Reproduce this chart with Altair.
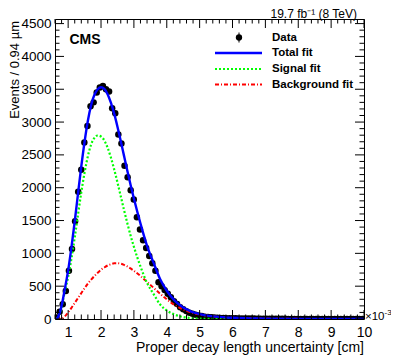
import altair as alt
import pandas as pd

# ---------------- data ----------------
BIN_LO, BIN_W = 0.6, 0.094
data_counts = [24, 110, 225, 425, 735, 1065, 1490, 1940, 2275, 2690,
               2940, 3240, 3300, 3450, 3525, 3550, 3500, 3465, 3210, 3135,
               2810, 2675, 2335, 2160, 1960, 1820, 1550, 1365, 1200, 1080,
               960, 850, 735, 560, 500, 440, 385, 330, 270, 230,
               180, 150, 120, 95, 80, 65, 52, 44, 36, 30,
               25, 22, 19, 17, 15, 13, 12, 11, 10, 9,
               8, 7, 7, 6, 6, 5, 5, 5, 4, 4,
               4, 3, 3, 3, 3, 2, 2, 2, 2, 2,
               2, 2, 1, 1, 1, 1, 1, 1, 1, 1,
               1, 1, 1, 1, 1, 1, 1, 1, 1, 1]
data_x = [round(BIN_LO + BIN_W * (i + 0.5), 4) for i in range(len(data_counts))]

fit_x = [0.65, 0.7, 0.8, 0.9, 1.0, 1.1, 1.2, 1.3, 1.4, 1.5, 1.6, 1.7, 1.8, 1.9,
         2.0, 2.1, 2.2, 2.3, 2.4, 2.5, 2.6, 2.7, 2.8, 2.9, 3.0, 3.2, 3.4, 3.6,
         3.8, 4.0, 4.25, 4.5, 4.75, 5.0, 5.5, 6.0, 6.5, 7.0, 8.0, 9.0, 10.0]
total_fit = [0, 40, 200, 460, 740, 1090, 1485, 1910, 2325, 2700, 3020, 3260, 3415, 3500,
             3530, 3505, 3425, 3295, 3128, 2930, 2712, 2485, 2260, 2040, 1835, 1455, 1115, 855,
             605, 430, 275, 175, 114, 74, 36, 18, 10, 6, 2, 1, 0.5]
signal_fit = [0, 35, 190, 420, 640, 920, 1240, 1590, 1930, 2230, 2480, 2660, 2760, 2795,
              2780, 2720, 2610, 2460, 2280, 2080, 1870, 1660, 1460, 1270, 1100, 800, 550, 380,
              220, 130, 65, 30, 14, 6, 1, 0, 0, 0, 0, 0, 0]
bkg_fit = [0, 0, 5, 40, 100, 170, 245, 320, 395, 470, 540, 600, 655, 705,
           750, 785, 815, 835, 848, 850, 842, 825, 800, 770, 735, 655, 565, 475,
           385, 300, 210, 145, 100, 68, 35, 18, 10, 6, 2, 1, 0.5]

x_tick_labels = [1, 2, 3, 4, 5, 6, 7, 8, 9, 10]
y_tick_labels = [0, 500, 1000, 1500, 2000, 2500, 3000, 3500, 4000, 4500]
legend_labels = ["Data", "Total fit", "Signal fit", "Background fit"]

# ---------------- layout ----------------
W, H = 309, 300
PAD_L, PAD_T = 47, 11
XMIN, XMAX = 0.6, 10.0
YMAX = 4570
FONT = "Liberation Sans"

xs = alt.Scale(domain=[XMIN, XMAX], nice=False, zero=False)
ys = alt.Scale(domain=[0, YMAX], nice=False, zero=True)

pts = pd.DataFrame({"x": data_x, "y": data_counts})
fits = pd.DataFrame({"x": fit_x, "total": total_fit, "signal": signal_fit, "bkg": bkg_fit})

x_axis = alt.Axis(values=x_tick_labels, ticks=False, domain=False, grid=False, title=None,
                  labelFont=FONT, labelFontSize=14, labelColor="black", labelPadding=6,
                  labelFlush=False, labelOverlap=False, format="d")
y_axis = alt.Axis(values=y_tick_labels, ticks=False, domain=False, grid=False, title=None,
                  labelFont=FONT, labelFontSize=13.5, labelColor="black", labelPadding=4,
                  labelFlush=False, labelOverlap=False, format="d")


def X(field):
    return alt.X(field, scale=xs, axis=x_axis)


def Y(field):
    return alt.Y(field, scale=ys, axis=y_axis)


points = alt.Chart(pts).mark_circle(size=42, color="black", opacity=1, clip=True).encode(
    x=X("x:Q"), y=Y("y:Q"))


def fit_line(col, color, dash=None, width=2.0):
    kw = dict(color=color, strokeWidth=width, interpolate="monotone", clip=True)
    if dash:
        kw["strokeDash"] = dash
    return alt.Chart(fits).mark_line(**kw).encode(x=X("x:Q"), y=Y(f"{col}:Q"))


bkg_line = fit_line("bkg", "#ff0000", [4, 2, 1, 2], 2.0)
sig_line = fit_line("signal", "#00ff00", [2, 2], 2.2)
tot_line = fit_line("total", "#0000ff", None, 2.4)

# ---------------- tick marks (inside the frame, on all four sides) ----------------
y_minor = [v for v in range(0, 4600, 100) if v % 500 != 0]
y_major = list(range(0, 4600, 500))
x_all = [round(0.6 + 0.2 * k, 2) for k in range(48)]
x_minor = [v for v in x_all if abs(v - round(v)) > 1e-6]
x_major = list(range(1, 11))


def yticks(vals, x0, x1):
    return alt.Chart(pd.DataFrame({"v": vals})).mark_rule(color="black", strokeWidth=1).encode(
        y=Y("v:Q"), x=alt.value(x0), x2=alt.value(x1))


def xticks(vals, y0, y1):
    return alt.Chart(pd.DataFrame({"v": vals})).mark_rule(color="black", strokeWidth=1).encode(
        x=X("v:Q"), y=alt.value(y0), y2=alt.value(y1))


MJ, MN = 9, 4.5
tick_layers = [
    yticks(y_major, 0, MJ), yticks(y_minor, 0, MN),
    yticks(y_major, W - MJ, W), yticks(y_minor, W - MN, W),
    xticks(x_major, H - MJ, H), xticks(x_minor, H - MN, H),
    xticks(x_major, 0, MJ), xticks(x_minor, 0, MN),
]


# ---------------- texts ----------------
def text(t, x, y, size=14, weight="normal", align="left", baseline="alphabetic", angle=0):
    kw = dict(text=t, font=FONT, fontSize=size, fontWeight=weight, align=align,
              baseline=baseline, color="black")
    if angle:
        kw["angle"] = angle
    return alt.Chart(pd.DataFrame({"a": [0]})).mark_text(**kw).encode(
        x=alt.value(x), y=alt.value(y))


texts = [
    text("CMS", 14.5, 25, size=14, weight="bold"),
    text("19.7 fb⁻¹ (8 TeV)", W - 7, -1, size=12, align="right"),
    text("Proper decay length uncertainty [cm]", W, H + 33, size=14, align="right"),
    text("×10", W + 1, H + 1, size=11.5, align="left"),
    text("-3", W + 20.5, H - 4.5, size=8, align="left"),
    text("Events / 0.94 µm", -36, 2, size=13, align="right", baseline="alphabetic", angle=270),
]

# ---------------- legend ----------------
LX0, LX1, LMK, LTX = 160, 207, 184, 217
row_y = [18.5, 34, 50, 65.5]
leg = []
leg.append(alt.Chart(pd.DataFrame({"a": [0]})).mark_point(
    shape="circle", filled=True, size=40, color="black", opacity=1).encode(
    x=alt.value(LMK), y=alt.value(row_y[0])))
leg.append(alt.Chart(pd.DataFrame({"a": [0]})).mark_rule(color="black", strokeWidth=1).encode(
    x=alt.value(LMK), y=alt.value(row_y[0] - 5), y2=alt.value(row_y[0] + 5)))
for yy, col, dash, sw in [(row_y[1], "#0000ff", None, 2.4),
                          (row_y[2], "#00ff00", [2, 2], 2.2),
                          (row_y[3], "#ff0000", [4, 2, 1, 2], 2.0)]:
    kw = dict(color=col, strokeWidth=sw)
    if dash:
        kw["strokeDash"] = dash
    leg.append(alt.Chart(pd.DataFrame({"a": [0]})).mark_rule(**kw).encode(
        x=alt.value(LX0), x2=alt.value(LX1), y=alt.value(yy)))
for lab, yy in zip(legend_labels, row_y):
    leg.append(text(lab, LTX, yy, size=11.5, weight="bold", baseline="middle"))

chart = alt.layer(
    points, bkg_line, sig_line, tot_line, *tick_layers, *texts, *leg
).properties(
    width=W, height=H,
    padding={"left": PAD_L, "top": PAD_T, "right": 383 - PAD_L - W, "bottom": 347 - PAD_T - H},
    autosize=alt.AutoSizeParams(type="none"),
    background="white",
).configure_view(stroke="black", strokeWidth=1)

chart.save("out.html", embed_options={"renderer": "svg", "actions": False})
